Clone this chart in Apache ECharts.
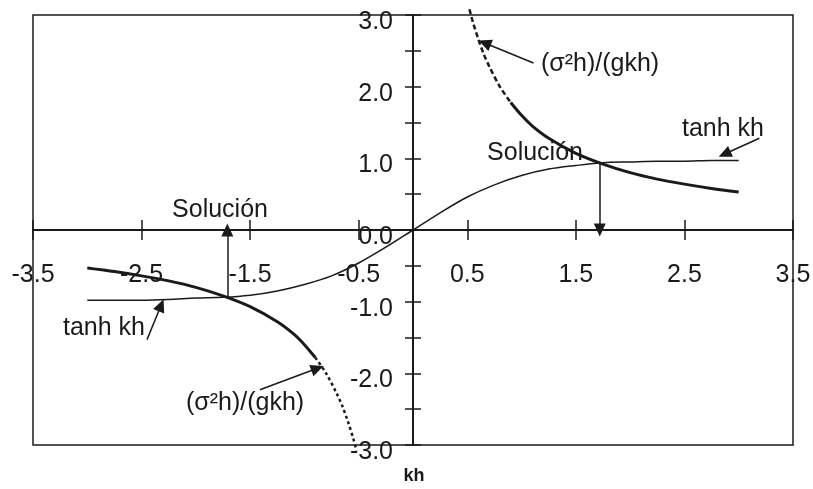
<!DOCTYPE html>
<html>
<head>
<meta charset="utf-8">
<script src="https://cdn.jsdelivr.net/npm/echarts@6/dist/echarts.min.js"></script>
<style>
html,body{margin:0;padding:0;background:#fff;}
#chart{width:813px;height:489px;}
</style>
</head>
<body>
<div id="chart"></div>
<script>
// ---- data ----
const xTickValues = [-3.5, -2.5, -1.5, -0.5, 0.5, 1.5, 2.5, 3.5];
const yTickValues = [-3, -2.5, -2, -1.5, -1, -0.5, 0, 0.5, 1, 1.5, 2, 2.5, 3];
const yLabelValues = [-3, -2, -1, 0, 1, 2, 3];

const tanhKh  = [-3, -2.75, -2.5, -2.25, -2, -1.75, -1.5, -1.25, -1, -0.75, -0.5, -0.25, 0, 0.25, 0.5, 0.75, 1, 1.25, 1.5, 1.75, 2, 2.25, 2.5, 2.75, 3];
const tanhVal = [-0.98, -0.98, -0.98, -0.97, -0.95, -0.94, -0.91, -0.85, -0.76, -0.64, -0.46, -0.24, 0, 0.24, 0.46, 0.63, 0.76, 0.85, 0.90, 0.94, 0.95, 0.96, 0.96, 0.97, 0.97];

const ratioUpperKh  = [0.52, 0.55, 0.6, 0.65, 0.7, 0.8, 0.9, 1.0, 1.1, 1.25, 1.5, 1.75, 2.0, 2.25, 2.5, 2.75, 3.0];
const ratioUpperVal = [3.08, 2.91, 2.67, 2.46, 2.29, 2.0, 1.78, 1.6, 1.45, 1.28, 1.07, 0.92, 0.80, 0.71, 0.64, 0.58, 0.53];
const ratioLowerKh  = [-3.0, -2.75, -2.5, -2.25, -2.0, -1.75, -1.5, -1.25, -1.1, -1.0, -0.9, -0.8, -0.7, -0.65, -0.6, -0.55, -0.52];
const ratioLowerVal = [-0.53, -0.58, -0.64, -0.71, -0.80, -0.92, -1.07, -1.28, -1.45, -1.6, -1.78, -2.0, -2.29, -2.46, -2.67, -2.91, -3.08];
const dashedLimit = 0.9; // |kh| below this the ratio curve is drawn broken

// ---- build ----
const zip = (a, b) => a.map((v, i) => [v, b[i]]);
const tanhData = zip(tanhKh, tanhVal);
const upper = zip(ratioUpperKh, ratioUpperVal);
const lower = zip(ratioLowerKh, ratioLowerVal);
const upperSolid = upper.filter(p => p[0] >= dashedLimit);
const upperDash  = upper.filter(p => p[0] <= dashedLimit);
const lowerSolid = lower.filter(p => p[0] <= -dashedLimit);
const lowerDash  = lower.filter(p => p[0] >= -dashedLimit);

const INK = '#1a1a1a';
const FONT = '"Liberation Sans", Arial, sans-serif';
const FS = 25;

const axisLineStyle = { color: INK, width: 2 };
function xAxisDef(pos, labels) {
  return {
    type: 'value', min: -3.5, max: 3.5, position: pos,
    axisLine: { show: true, onZero: true, lineStyle: axisLineStyle },
    axisTick: { show: true, length: 10, customValues: xTickValues, lineStyle: { color: INK, width: 1.5 } },
    axisLabel: labels ? {
      show: true, customValues: xTickValues, margin: -170, verticalAlign: 'middle',
      fontSize: FS, fontFamily: FONT, color: INK, hideOverlap: false,
      formatter: v => v.toFixed(1)
    } : { show: false },
    splitLine: { show: false }
  };
}
function yAxisDef(pos, labels) {
  return {
    type: 'value', min: -3, max: 3, interval: 0.5, position: pos,
    axisLine: { show: true, onZero: true, lineStyle: axisLineStyle },
    axisTick: { show: true, length: 8, customValues: yTickValues, lineStyle: { color: INK, width: 1.5 } },
    axisLabel: labels ? {
      show: true, customValues: yLabelValues, margin: -360, align: 'right',
      verticalAlign: 'top', lineHeight: 14, hideOverlap: false,
      fontSize: FS, fontFamily: FONT, color: INK,
      formatter: v => v.toFixed(1)
    } : { show: false },
    splitLine: { show: false }
  };
}

function arrow(from, to) {
  return [
    { coord: from, symbol: 'none' },
    { coord: to, symbol: 'triangle', symbolSize: [12, 13] }
  ];
}

const chart = echarts.init(document.getElementById('chart'), null, { renderer: 'canvas' });
chart.setOption({
  animation: false,
  backgroundColor: '#fff',
  grid: { left: 33, right: 20, top: 15, bottom: 44, outerBoundsMode: 'none', containLabel: false,
          show: true, borderColor: INK, borderWidth: 1.5, backgroundColor: 'transparent' },
  xAxis: [xAxisDef('bottom', true), xAxisDef('top', false)],
  yAxis: [yAxisDef('left', true), yAxisDef('right', false)],
  series: [
    {
      name: 'tanh kh', type: 'line', data: tanhData, smooth: 0.3, showSymbol: false,
      lineStyle: { color: INK, width: 1.5 },
      markLine: {
        silent: true, animation: false, label: { show: false },
        lineStyle: { type: 'solid', color: INK, width: 1.5 },
        data: [
          arrow([1.72, 0.93], [1.72, 0.0]),
          arrow([-1.71, -0.94], [-1.71, 0.0]),
          arrow([1.11, 2.33], [0.66, 2.61]),
          arrow([3.19, 1.28], [2.87, 1.06]),
          arrow([-2.45, -1.53], [-2.32, -1.05]),
          arrow([-1.41, -2.23], [-0.88, -1.93])
        ]
      }
    },
    { name: 'ratio+', type: 'line', data: upperSolid, smooth: 0.3, showSymbol: false, lineStyle: { color: INK, width: 3 } },
    { name: 'ratio+d', type: 'line', data: upperDash, smooth: 0.3, showSymbol: false, clip: false, lineStyle: { color: INK, width: 2.5, type: [5, 3] } },
    { name: 'ratio-', type: 'line', data: lowerSolid, smooth: 0.3, showSymbol: false, lineStyle: { color: INK, width: 3 } },
    { name: 'ratio-d', type: 'line', data: lowerDash, smooth: 0.3, showSymbol: false, clip: false, lineStyle: { color: INK, width: 2.5, type: [3, 3] } }
  ],
  graphic: [
    { type: 'text', x: 220, y: 210, style: { text: 'Solución', fontSize: FS, fontFamily: FONT, fill: INK, align: 'center', verticalAlign: 'middle' } },
    { type: 'text', x: 535, y: 153, style: { text: 'Solución', fontSize: FS, fontFamily: FONT, fill: INK, align: 'center', verticalAlign: 'middle' } },
    { type: 'text', x: 600, y: 64, style: { text: '(σ²h)/(gkh)', fontSize: FS, fontFamily: FONT, fill: INK, align: 'center', verticalAlign: 'middle' } },
    { type: 'text', x: 723, y: 129, style: { text: 'tanh kh', fontSize: FS, fontFamily: FONT, fill: INK, align: 'center', verticalAlign: 'middle' } },
    { type: 'text', x: 104, y: 328, style: { text: 'tanh kh', fontSize: FS, fontFamily: FONT, fill: INK, align: 'center', verticalAlign: 'middle' } },
    { type: 'text', x: 245, y: 403, style: { text: '(σ²h)/(gkh)', fontSize: FS, fontFamily: FONT, fill: INK, align: 'center', verticalAlign: 'middle' } },
    { type: 'text', x: 414, y: 476, style: { text: 'kh', fontSize: 18, fontWeight: 'bold', fontFamily: FONT, fill: INK, align: 'center', verticalAlign: 'middle' } }
  ]
});
</script>
</body>
</html>
